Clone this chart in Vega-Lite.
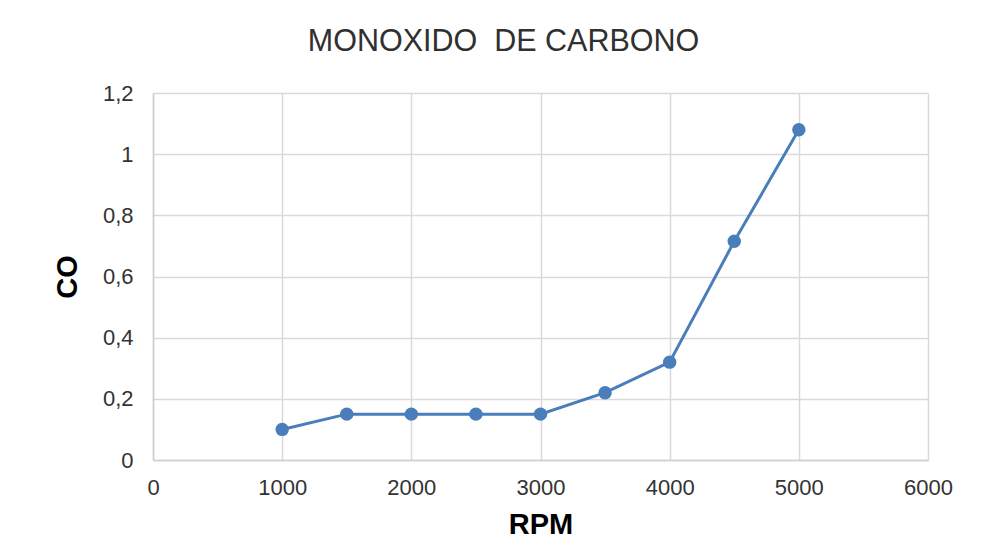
{
  "$schema": "https://vega.github.io/schema/vega-lite/v6.json",
  "autosize": {"type": "none"},
  "width": 775,
  "height": 367,
  "padding": {"left": 153, "top": 93, "right": 55, "bottom": 99},
  "background": "white",
  "config": {"view": {"stroke": null}, "font": "Liberation Sans"},
  "title": {
    "text": "MONOXIDO \u00a0DE CARBONO",
    "fontSize": 30.5,
    "fontWeight": "normal",
    "color": "#303030",
    "font": "Liberation Sans",
    "anchor": "middle",
    "baseline": "alphabetic",
    "offset": 1,
    "dx": -37
  },
  "data": {
    "values": [
      {"RPM": 1000, "CO": 0.10},
      {"RPM": 1500, "CO": 0.15},
      {"RPM": 2000, "CO": 0.15},
      {"RPM": 2500, "CO": 0.15},
      {"RPM": 3000, "CO": 0.15},
      {"RPM": 3500, "CO": 0.22},
      {"RPM": 4000, "CO": 0.32},
      {"RPM": 4500, "CO": 0.715},
      {"RPM": 5000, "CO": 1.08}
    ]
  },
  "mark": {"type": "line", "color": "#4a7ebb", "strokeWidth": 3, "point": {"filled": true, "size": 180, "color": "#4a7ebb", "opacity": 1}},
  "encoding": {
    "x": {
      "field": "RPM",
      "type": "quantitative",
      "scale": {"domain": [0, 6000], "nice": false},
      "axis": {
        "values": [0, 1000, 2000, 3000, 4000, 5000, 6000],
        "format": "d",
        "ticks": false,
        "labelFontSize": 22,
        "labelColor": "#333333",
        "labelPadding": 17,
        "labelFlush": false,
        "gridColor": "#d9d9d9",
        "gridWidth": 1.5,
        "domainColor": "#cfcfcf",
        "domainWidth": 1.5,
        "title": "RPM",
        "titleFontSize": 29,
        "titleFontWeight": "bold",
        "titleColor": "#000000",
        "titlePadding": 12
      }
    },
    "y": {
      "field": "CO",
      "type": "quantitative",
      "scale": {"domain": [0, 1.2], "nice": false},
      "axis": {
        "values": [0, 0.2, 0.4, 0.6, 0.8, 1, 1.2],
        "labelExpr": "replace(format(datum.value, ''), '.', ',')",
        "ticks": false,
        "labelFontSize": 22,
        "labelColor": "#333333",
        "labelPadding": 20,
        "labelFlush": false,
        "gridColor": "#d9d9d9",
        "gridWidth": 1.5,
        "domainColor": "#cfcfcf",
        "domainWidth": 1.5,
        "title": "CO",
        "titleFontSize": 29,
        "titleFontWeight": "bold",
        "titleColor": "#000000",
        "titlePadding": 20
      }
    }
  }
}
